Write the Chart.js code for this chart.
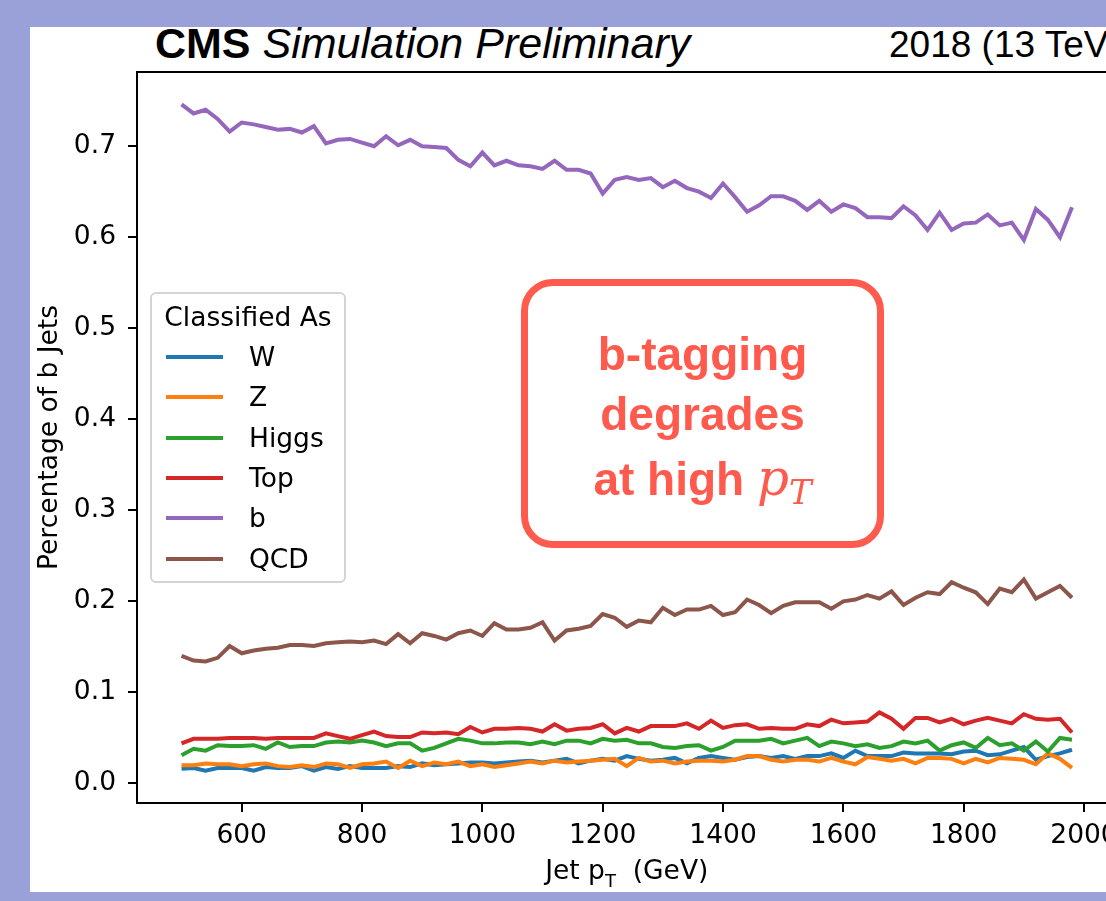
<!DOCTYPE html>
<html>
<head>
<meta charset="utf-8">
<script src="https://cdn.jsdelivr.net/npm/chart.js@4.4.1/dist/chart.umd.min.js"></script>
<style>
  html, body { margin: 0; padding: 0; }
  body { width: 1106px; height: 901px; overflow: hidden; background: #9aa0d8; position: relative; font-family: "DejaVu Sans", sans-serif; }
  #panel { position: absolute; left: 30px; top: 27px; width: 1076px; height: 865px; background: #fff; }
  #wrap { position: absolute; left: 30px; top: 27px; width: 1120px; height: 865px; }
  .hdr { position: absolute; font-family: "Liberation Sans", Arial, sans-serif; color: #000; white-space: nowrap; }
  #legend { position: absolute; left: 150px; top: 292px; width: 196px; height: 291px; box-sizing: border-box;
            border: 2px solid #d4d4d4; border-radius: 6px; background: rgba(255,255,255,0.8); font-size: 26.5px; }
  #legend .ttl { position: absolute; left: 0; right: 0; top: 7px; text-align: center; }
  #legend .row { position: absolute; left: 0; height: 30px; }
  #legend .sw { position: absolute; left: 14px; top: 13px; width: 57px; height: 4px; }
  #legend .lb { position: absolute; left: 97px; top: 0; line-height: 30px; }
  #note { position: absolute; left: 521px; top: 279px; width: 363px; height: 269px; box-sizing: border-box;
          border: 7px solid #fe5a4e; border-radius: 32px; background: #fff; color: #fe5a4e;
          font-family: "Liberation Sans", Arial, sans-serif; font-weight: bold; font-size: 46px; text-align: center; }
  #note div { position: absolute; left: 0; right: 0; line-height: 52px; }
  #note i { font-family: "DejaVu Serif", serif; font-weight: normal; font-size: 50px; }
  #note sub { font-size: 34px; vertical-align: -9px; }
</style>
</head>
<body>
<div id="panel"></div>
<div class="hdr" style="left:155px; top:19px; font-size:43px;"><b>CMS</b> <i>Simulation Preliminary</i></div>
<div class="hdr" style="left:889px; top:24px; font-size:37px;">2018 (13 TeV)</div>
<div id="wrap"><canvas id="chart" width="1120" height="865"></canvas></div>
<div id="legend"><div class="ttl">Classified As</div></div>
<div id="note">
  <div style="top:42px;">b-tagging</div>
  <div style="top:102px;">degrades</div>
  <div style="top:166px;">at high <i>p<sub>T</sub></i></div>
</div>
<script>
// jet pT bin centres (GeV)
const ptBins = [500, 520, 540, 560, 580, 600, 620, 640, 660, 680,
  700, 720, 740, 760, 780, 800, 820, 840, 860, 880,
  900, 920, 940, 960, 980, 1000, 1020, 1040, 1060, 1080,
  1100, 1120, 1140, 1160, 1180, 1200, 1220, 1240, 1260, 1280,
  1300, 1320, 1340, 1360, 1380, 1400, 1420, 1440, 1460, 1480,
  1500, 1520, 1540, 1560, 1580, 1600, 1620, 1640, 1660, 1680,
  1700, 1720, 1740, 1760, 1780, 1800, 1820, 1840, 1860, 1880,
  1900, 1920, 1940, 1960, 1980];

// fraction of true b jets classified as each class
const wFrac = [0.016, 0.017, 0.014, 0.017, 0.017, 0.017, 0.014, 0.018, 0.017, 0.017,
  0.019, 0.014, 0.018, 0.016, 0.019, 0.017, 0.017, 0.017, 0.019, 0.018,
  0.022, 0.020, 0.021, 0.022, 0.023, 0.023, 0.022, 0.023, 0.024, 0.025,
  0.023, 0.025, 0.027, 0.022, 0.025, 0.027, 0.025, 0.030, 0.027, 0.025,
  0.026, 0.028, 0.022, 0.028, 0.030, 0.028, 0.026, 0.029, 0.030, 0.028,
  0.030, 0.027, 0.030, 0.030, 0.033, 0.028, 0.036, 0.030, 0.030, 0.030,
  0.034, 0.033, 0.033, 0.033, 0.032, 0.035, 0.036, 0.031, 0.032, 0.036,
  0.040, 0.026, 0.030, 0.033, 0.037];
const zFrac = [0.020, 0.020, 0.022, 0.021, 0.021, 0.019, 0.021, 0.022, 0.019, 0.018,
  0.020, 0.018, 0.022, 0.021, 0.017, 0.021, 0.022, 0.024, 0.017, 0.025,
  0.019, 0.023, 0.021, 0.024, 0.019, 0.021, 0.018, 0.020, 0.022, 0.024,
  0.022, 0.025, 0.023, 0.024, 0.025, 0.026, 0.027, 0.019, 0.028, 0.024,
  0.025, 0.022, 0.024, 0.025, 0.025, 0.024, 0.026, 0.030, 0.030, 0.026,
  0.024, 0.026, 0.026, 0.024, 0.028, 0.024, 0.021, 0.029, 0.027, 0.025,
  0.027, 0.022, 0.028, 0.028, 0.027, 0.022, 0.027, 0.023, 0.028, 0.027,
  0.026, 0.021, 0.033, 0.027, 0.017];
const higgsFrac = [0.031, 0.038, 0.036, 0.042, 0.041, 0.041, 0.042, 0.038, 0.045, 0.040,
  0.041, 0.041, 0.045, 0.046, 0.045, 0.047, 0.045, 0.041, 0.044, 0.044,
  0.036, 0.039, 0.044, 0.049, 0.047, 0.044, 0.044, 0.045, 0.045, 0.043,
  0.046, 0.043, 0.047, 0.047, 0.044, 0.049, 0.047, 0.048, 0.044, 0.044,
  0.040, 0.039, 0.041, 0.042, 0.036, 0.040, 0.047, 0.047, 0.047, 0.049,
  0.044, 0.047, 0.050, 0.041, 0.046, 0.044, 0.041, 0.043, 0.039, 0.041,
  0.046, 0.044, 0.047, 0.036, 0.042, 0.045, 0.039, 0.050, 0.042, 0.044,
  0.036, 0.046, 0.035, 0.050, 0.048];
const topFrac = [0.044, 0.049, 0.049, 0.049, 0.050, 0.050, 0.050, 0.049, 0.050, 0.050,
  0.050, 0.050, 0.055, 0.052, 0.049, 0.053, 0.057, 0.052, 0.051, 0.051,
  0.056, 0.055, 0.056, 0.054, 0.062, 0.056, 0.060, 0.060, 0.061, 0.060,
  0.057, 0.065, 0.058, 0.060, 0.061, 0.065, 0.055, 0.061, 0.057, 0.063,
  0.063, 0.063, 0.066, 0.060, 0.069, 0.061, 0.064, 0.065, 0.060, 0.061,
  0.060, 0.060, 0.065, 0.063, 0.070, 0.066, 0.067, 0.068, 0.078, 0.071,
  0.060, 0.072, 0.072, 0.067, 0.071, 0.065, 0.069, 0.072, 0.069, 0.066,
  0.076, 0.071, 0.070, 0.071, 0.056];
const bFrac = [0.746, 0.736, 0.740, 0.730, 0.716, 0.726, 0.724, 0.721, 0.718, 0.719,
  0.715, 0.722, 0.703, 0.707, 0.708, 0.704, 0.700, 0.711, 0.701, 0.707,
  0.700, 0.699, 0.698, 0.685, 0.678, 0.693, 0.679, 0.684, 0.679, 0.678,
  0.675, 0.684, 0.674, 0.674, 0.670, 0.648, 0.663, 0.666, 0.663, 0.665,
  0.655, 0.662, 0.654, 0.650, 0.643, 0.659, 0.644, 0.628, 0.635, 0.645,
  0.645, 0.640, 0.630, 0.640, 0.628, 0.636, 0.632, 0.622, 0.622, 0.621,
  0.634, 0.624, 0.608, 0.627, 0.608, 0.615, 0.616, 0.625, 0.613, 0.616,
  0.597, 0.631, 0.619, 0.600, 0.633];
const qcdFrac = [0.140, 0.135, 0.134, 0.138, 0.151, 0.143, 0.146, 0.148, 0.149, 0.152,
  0.152, 0.151, 0.154, 0.155, 0.156, 0.155, 0.157, 0.153, 0.164, 0.154,
  0.165, 0.162, 0.158, 0.165, 0.168, 0.162, 0.176, 0.169, 0.169, 0.171,
  0.177, 0.157, 0.168, 0.170, 0.173, 0.186, 0.182, 0.172, 0.179, 0.177,
  0.193, 0.185, 0.191, 0.191, 0.195, 0.185, 0.188, 0.202, 0.196, 0.187,
  0.195, 0.199, 0.199, 0.199, 0.192, 0.200, 0.202, 0.207, 0.203, 0.211,
  0.196, 0.204, 0.210, 0.208, 0.221, 0.215, 0.210, 0.197, 0.214, 0.210,
  0.224, 0.203, 0.210, 0.217, 0.204];

const classNames = ["W", "Z", "Higgs", "Top", "b", "QCD"];
const classColors = ["#1f77b4", "#ff7f0e", "#2ca02c", "#d62728", "#9467bd", "#8c564b"];
const seriesList = [wFrac, zFrac, higgsFrac, topFrac, bFrac, qcdFrac];

const xTicks = [600, 800, 1000, 1200, 1400, 1600, 1800, 2000];
const yTicks = [0.0, 0.1, 0.2, 0.3, 0.4, 0.5, 0.6, 0.7];

const tickFont = { family: "DejaVu Sans", size: 26.5 };

// top/right spines + x title with subscript
const framePlugin = {
  id: "frame",
  afterDraw(chart) {
    const { ctx, chartArea: a } = chart;
    ctx.save();
    ctx.strokeStyle = "#000";
    ctx.lineWidth = 2;
    ctx.beginPath();
    ctx.moveTo(a.left, a.bottom);
    ctx.lineTo(a.left, a.top);
    ctx.lineTo(a.right, a.top);
    ctx.lineTo(a.right, a.bottom);
    ctx.lineTo(a.left, a.bottom);
    ctx.stroke();

    const big = "26.5px 'DejaVu Sans'", small = "18px 'DejaVu Sans'";
    const p1 = "Jet p", p2 = "T", p3 = "  (GeV)";
    ctx.font = big; const w1 = ctx.measureText(p1).width, w3 = ctx.measureText(p3).width;
    ctx.font = small; const w2 = ctx.measureText(p2).width;
    let x = (a.left + a.right) / 2 - (w1 + w2 + w3) / 2;
    const y = 852;
    ctx.fillStyle = "#000";
    ctx.textBaseline = "alphabetic";
    ctx.textAlign = "left";
    ctx.font = big; ctx.fillText(p1, x, y); x += w1;
    ctx.font = small; ctx.fillText(p2, x, y + 8); x += w2;
    ctx.font = big; ctx.fillText(p3, x, y);
    ctx.restore();
  }
};

const chart = new Chart(document.getElementById("chart").getContext("2d"), {
  type: "line",
  data: {
    datasets: classNames.map((name, k) => ({
      label: name,
      data: ptBins.map((pt, i) => ({ x: pt, y: seriesList[k][i] })),
      borderColor: classColors[k],
      backgroundColor: classColors[k],
      borderWidth: 4,
      pointRadius: 0,
      tension: 0,
      order: classNames.length - k
    }))
  },
  options: {
    responsive: false,
    animation: false,
    layout: { padding: { top: 45, right: 33.5, left: 0, bottom: 0 } },
    plugins: { legend: { display: false }, tooltip: { enabled: false } },
    scales: {
      x: {
        type: "linear",
        min: 426,
        max: 2054,
        afterBuildTicks: s => { s.ticks = xTicks.map(v => ({ value: v })); },
        afterFit: s => { s.height = 89; },
        grid: { drawOnChartArea: false, drawTicks: true, tickLength: 9, color: "#000", lineWidth: 2 },
        border: { display: true, color: "#000", width: 2 },
        ticks: { color: "#000", font: tickFont, padding: 8, maxRotation: 0, callback: v => String(v) }
      },
      y: {
        type: "linear",
        min: -0.0215,
        max: 0.7815,
        afterBuildTicks: s => { s.ticks = yTicks.map(v => ({ value: v })); },
        afterFit: s => { s.width = 107; },
        grid: { drawOnChartArea: false, drawTicks: true, tickLength: 9, color: "#000", lineWidth: 2 },
        border: { display: true, color: "#000", width: 2 },
        ticks: { color: "#000", font: tickFont, padding: 12, callback: v => v.toFixed(1) },
        title: { display: true, text: "Percentage of b Jets", color: "#000", font: tickFont, padding: { top: 4, bottom: 0 } }
      }
    }
  },
  plugins: [framePlugin]
});

// legend built from the chart's datasets
const legend = document.getElementById("legend");
chart.data.datasets.forEach((ds, k) => {
  const row = document.createElement("div");
  row.className = "row";
  row.style.top = (48 + k * 40.3) + "px";
  row.style.width = "190px";
  row.innerHTML = '<div class="sw" style="background:' + ds.borderColor + '"></div><div class="lb">' + ds.label + '</div>';
  legend.appendChild(row);
});
</script>
</body>
</html>
